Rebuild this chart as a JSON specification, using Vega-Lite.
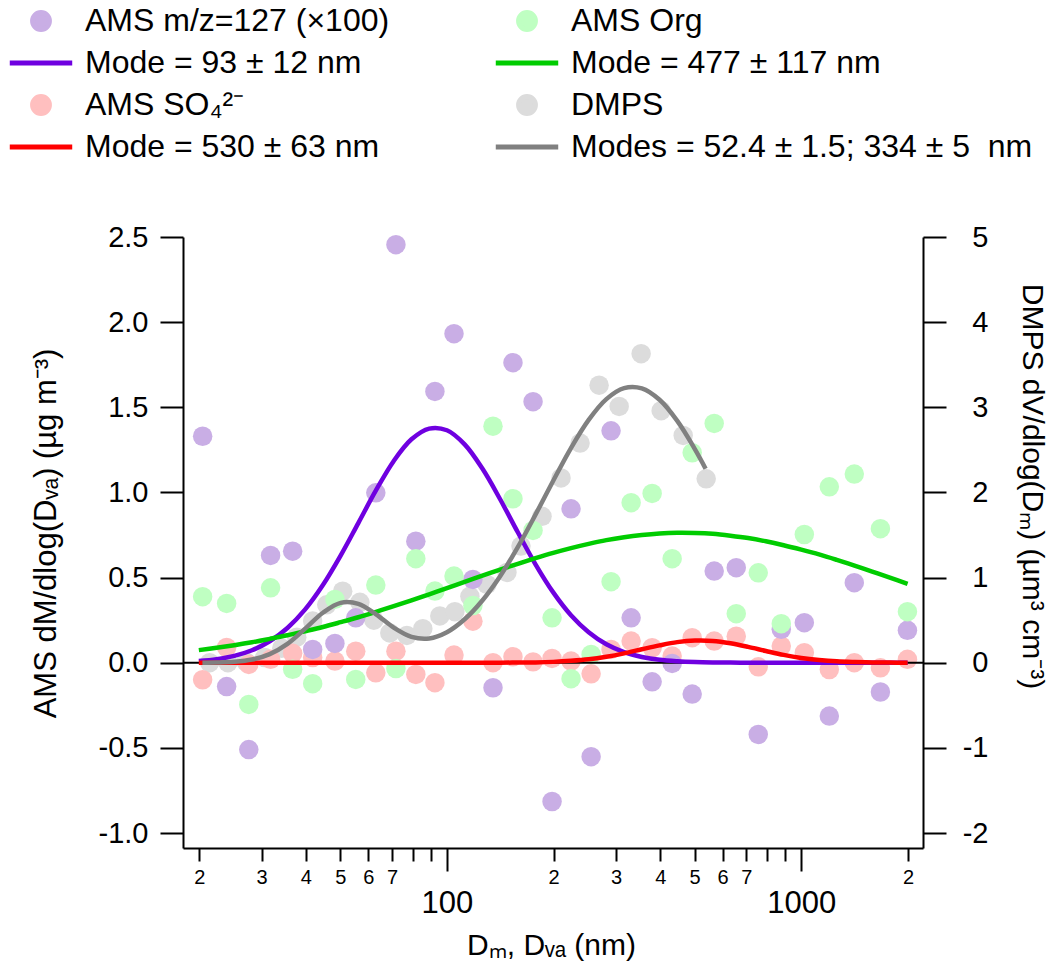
{
  "$schema": "https://vega.github.io/schema/vega-lite/v6.json",
  "width": 740,
  "height": 611,
  "autosize": "none",
  "padding": {"left": 183, "top": 237, "right": 141, "bottom": 117},
  "background": "white",
  "config": {
    "view": {"stroke": null},
    "font": "Liberation Sans",
    "axis": {"grid": false, "domainColor": "black", "domainWidth": 2, "tickColor": "black", "tickWidth": 2, "labelColor": "black", "titleColor": "black", "labelFont": "Liberation Sans", "titleFont": "Liberation Sans", "titleFontWeight": "normal", "labelFlush": false, "labelOverlap": false, "labelBound": false}
  },
  "datasets": {
    "ams": [
      {"D": 20.45, "s": "AMS SO₄²⁻", "v": -0.10}, {"D": 23.9, "s": "AMS SO₄²⁻", "v": 0.09}, {"D": 27.6, "s": "AMS SO₄²⁻", "v": -0.01}, {"D": 31.8, "s": "AMS SO₄²⁻", "v": 0.02},
      {"D": 36.7, "s": "AMS SO₄²⁻", "v": 0.055}, {"D": 41.8, "s": "AMS SO₄²⁻", "v": 0.03}, {"D": 48.3, "s": "AMS SO₄²⁻", "v": 0.01}, {"D": 55.3, "s": "AMS SO₄²⁻", "v": 0.068},
      {"D": 63.0, "s": "AMS SO₄²⁻", "v": -0.059}, {"D": 71.8, "s": "AMS SO₄²⁻", "v": 0.068}, {"D": 81.7, "s": "AMS SO₄²⁻", "v": -0.069}, {"D": 92.5, "s": "AMS SO₄²⁻", "v": -0.117},
      {"D": 104.7, "s": "AMS SO₄²⁻", "v": 0.045}, {"D": 118.4, "s": "AMS SO₄²⁻", "v": 0.244}, {"D": 134.9, "s": "AMS SO₄²⁻", "v": 0.0}, {"D": 153.6, "s": "AMS SO₄²⁻", "v": 0.035},
      {"D": 175.0, "s": "AMS SO₄²⁻", "v": 0.005}, {"D": 198.0, "s": "AMS SO₄²⁻", "v": 0.025}, {"D": 224.0, "s": "AMS SO₄²⁻", "v": 0.01}, {"D": 255.2, "s": "AMS SO₄²⁻", "v": -0.065},
      {"D": 290.5, "s": "AMS SO₄²⁻", "v": 0.078}, {"D": 331.0, "s": "AMS SO₄²⁻", "v": 0.127}, {"D": 379.4, "s": "AMS SO₄²⁻", "v": 0.088}, {"D": 432.1, "s": "AMS SO₄²⁻", "v": 0.039},
      {"D": 492.2, "s": "AMS SO₄²⁻", "v": 0.147}, {"D": 567.8, "s": "AMS SO₄²⁻", "v": 0.127}, {"D": 655.3, "s": "AMS SO₄²⁻", "v": 0.156}, {"D": 756.0, "s": "AMS SO₄²⁻", "v": -0.024},
      {"D": 878.0, "s": "AMS SO₄²⁻", "v": 0.098}, {"D": 1019.8, "s": "AMS SO₄²⁻", "v": 0.059}, {"D": 1199.6, "s": "AMS SO₄²⁻", "v": -0.04}, {"D": 1411, "s": "AMS SO₄²⁻", "v": 0.0},
      {"D": 1672, "s": "AMS SO₄²⁻", "v": -0.03}, {"D": 1993, "s": "AMS SO₄²⁻", "v": 0.02},
      {"D": 20.45, "s": "AMS m/z=127 (×100)", "v": 1.33}, {"D": 23.9, "s": "AMS m/z=127 (×100)", "v": -0.14}, {"D": 27.6, "s": "AMS m/z=127 (×100)", "v": -0.51}, {"D": 31.8, "s": "AMS m/z=127 (×100)", "v": 0.63},
      {"D": 36.7, "s": "AMS m/z=127 (×100)", "v": 0.655}, {"D": 41.8, "s": "AMS m/z=127 (×100)", "v": 0.078}, {"D": 48.3, "s": "AMS m/z=127 (×100)", "v": 0.113}, {"D": 55.3, "s": "AMS m/z=127 (×100)", "v": 0.264},
      {"D": 63.0, "s": "AMS m/z=127 (×100)", "v": 0.998}, {"D": 71.8, "s": "AMS m/z=127 (×100)", "v": 2.455}, {"D": 81.7, "s": "AMS m/z=127 (×100)", "v": 0.714}, {"D": 92.5, "s": "AMS m/z=127 (×100)", "v": 1.593},
      {"D": 104.7, "s": "AMS m/z=127 (×100)", "v": 1.932}, {"D": 118.4, "s": "AMS m/z=127 (×100)", "v": 0.489}, {"D": 134.9, "s": "AMS m/z=127 (×100)", "v": -0.147}, {"D": 153.6, "s": "AMS m/z=127 (×100)", "v": 1.762},
      {"D": 175.0, "s": "AMS m/z=127 (×100)", "v": 1.533}, {"D": 198.0, "s": "AMS m/z=127 (×100)", "v": -0.815}, {"D": 224.0, "s": "AMS m/z=127 (×100)", "v": 0.904}, {"D": 255.2, "s": "AMS m/z=127 (×100)", "v": -0.552},
      {"D": 290.5, "s": "AMS m/z=127 (×100)", "v": 1.362}, {"D": 331.0, "s": "AMS m/z=127 (×100)", "v": 0.264}, {"D": 379.4, "s": "AMS m/z=127 (×100)", "v": -0.112}, {"D": 432.1, "s": "AMS m/z=127 (×100)", "v": -0.004},
      {"D": 492.2, "s": "AMS m/z=127 (×100)", "v": -0.184}, {"D": 567.8, "s": "AMS m/z=127 (×100)", "v": 0.538}, {"D": 655.3, "s": "AMS m/z=127 (×100)", "v": 0.558}, {"D": 756.0, "s": "AMS m/z=127 (×100)", "v": -0.421},
      {"D": 878.0, "s": "AMS m/z=127 (×100)", "v": 0.196}, {"D": 1019.8, "s": "AMS m/z=127 (×100)", "v": 0.235}, {"D": 1199.6, "s": "AMS m/z=127 (×100)", "v": -0.313}, {"D": 1411, "s": "AMS m/z=127 (×100)", "v": 0.47},
      {"D": 1672, "s": "AMS m/z=127 (×100)", "v": -0.172}, {"D": 1993, "s": "AMS m/z=127 (×100)", "v": 0.19},
      {"D": 20.45, "s": "AMS Org", "v": 0.388}, {"D": 23.9, "s": "AMS Org", "v": 0.348}, {"D": 27.6, "s": "AMS Org", "v": -0.245}, {"D": 31.8, "s": "AMS Org", "v": 0.44},
      {"D": 36.7, "s": "AMS Org", "v": -0.039}, {"D": 41.8, "s": "AMS Org", "v": -0.123}, {"D": 48.3, "s": "AMS Org", "v": 0.372}, {"D": 55.3, "s": "AMS Org", "v": -0.098},
      {"D": 63.0, "s": "AMS Org", "v": 0.456}, {"D": 71.8, "s": "AMS Org", "v": -0.034}, {"D": 81.7, "s": "AMS Org", "v": 0.611}, {"D": 92.5, "s": "AMS Org", "v": 0.421},
      {"D": 104.7, "s": "AMS Org", "v": 0.509}, {"D": 118.4, "s": "AMS Org", "v": 0.336}, {"D": 134.9, "s": "AMS Org", "v": 1.389}, {"D": 153.6, "s": "AMS Org", "v": 0.963},
      {"D": 175.0, "s": "AMS Org", "v": 0.777}, {"D": 198.0, "s": "AMS Org", "v": 0.264}, {"D": 224.0, "s": "AMS Org", "v": -0.094}, {"D": 255.2, "s": "AMS Org", "v": 0.049},
      {"D": 290.5, "s": "AMS Org", "v": 0.476}, {"D": 331.0, "s": "AMS Org", "v": 0.94}, {"D": 379.4, "s": "AMS Org", "v": 0.994}, {"D": 432.1, "s": "AMS Org", "v": 0.611},
      {"D": 492.2, "s": "AMS Org", "v": 1.233}, {"D": 567.8, "s": "AMS Org", "v": 1.405}, {"D": 655.3, "s": "AMS Org", "v": 0.288}, {"D": 756.0, "s": "AMS Org", "v": 0.528},
      {"D": 878.0, "s": "AMS Org", "v": 0.229}, {"D": 1019.8, "s": "AMS Org", "v": 0.753}, {"D": 1199.6, "s": "AMS Org", "v": 1.033}, {"D": 1411, "s": "AMS Org", "v": 1.108},
      {"D": 1672, "s": "AMS Org", "v": 0.787}, {"D": 1993, "s": "AMS Org", "v": 0.30}
    ],
    "dmps": [
      {"D": 21.4, "s": "DMPS", "v": 0.0}, {"D": 24.1, "s": "DMPS", "v": 0.0}, {"D": 27.1, "s": "DMPS", "v": 0.01}, {"D": 30.6, "s": "DMPS", "v": 0.06},
      {"D": 34.2, "s": "DMPS", "v": 0.17}, {"D": 37.7, "s": "DMPS", "v": 0.30}, {"D": 41.8, "s": "DMPS", "v": 0.49}, {"D": 45.8, "s": "DMPS", "v": 0.68},
      {"D": 50.8, "s": "DMPS", "v": 0.84}, {"D": 56.8, "s": "DMPS", "v": 0.71}, {"D": 62.2, "s": "DMPS", "v": 0.50}, {"D": 69.0, "s": "DMPS", "v": 0.35},
      {"D": 77.1, "s": "DMPS", "v": 0.32}, {"D": 85.5, "s": "DMPS", "v": 0.40}, {"D": 95.5, "s": "DMPS", "v": 0.55}, {"D": 105.3, "s": "DMPS", "v": 0.60},
      {"D": 116.1, "s": "DMPS", "v": 0.78}, {"D": 129.7, "s": "DMPS", "v": 0.92}, {"D": 147.7, "s": "DMPS", "v": 1.06}, {"D": 161.8, "s": "DMPS", "v": 1.37},
      {"D": 185.5, "s": "DMPS", "v": 1.72}, {"D": 209.9, "s": "DMPS", "v": 2.17}, {"D": 237.5, "s": "DMPS", "v": 2.58}, {"D": 268.8, "s": "DMPS", "v": 3.26},
      {"D": 306.2, "s": "DMPS", "v": 3.01}, {"D": 353.2, "s": "DMPS", "v": 3.63}, {"D": 402.3, "s": "DMPS", "v": 2.96}, {"D": 464.2, "s": "DMPS", "v": 2.67},
      {"D": 539.0, "s": "DMPS", "v": 2.16}
    ],
    "fits": [
      {"D": 19.95, "s": "Mode = 93 ± 12 nm", "v": 0.010}, {"D": 22.39, "s": "Mode = 93 ± 12 nm", "v": 0.021}, {"D": 25.12, "s": "Mode = 93 ± 12 nm", "v": 0.040}, {"D": 28.18, "s": "Mode = 93 ± 12 nm", "v": 0.073},
      {"D": 31.62, "s": "Mode = 93 ± 12 nm", "v": 0.126}, {"D": 35.48, "s": "Mode = 93 ± 12 nm", "v": 0.204}, {"D": 39.81, "s": "Mode = 93 ± 12 nm", "v": 0.313}, {"D": 44.67, "s": "Mode = 93 ± 12 nm", "v": 0.456},
      {"D": 50.12, "s": "Mode = 93 ± 12 nm", "v": 0.629}, {"D": 56.23, "s": "Mode = 93 ± 12 nm", "v": 0.820}, {"D": 63.1, "s": "Mode = 93 ± 12 nm", "v": 1.013}, {"D": 70.79, "s": "Mode = 93 ± 12 nm", "v": 1.185},
      {"D": 79.43, "s": "Mode = 93 ± 12 nm", "v": 1.312}, {"D": 89.13, "s": "Mode = 93 ± 12 nm", "v": 1.375}, {"D": 100, "s": "Mode = 93 ± 12 nm", "v": 1.365}, {"D": 112.2, "s": "Mode = 93 ± 12 nm", "v": 1.282},
      {"D": 125.9, "s": "Mode = 93 ± 12 nm", "v": 1.140}, {"D": 141.3, "s": "Mode = 93 ± 12 nm", "v": 0.960}, {"D": 158.5, "s": "Mode = 93 ± 12 nm", "v": 0.766}, {"D": 177.8, "s": "Mode = 93 ± 12 nm", "v": 0.578},
      {"D": 199.5, "s": "Mode = 93 ± 12 nm", "v": 0.413}, {"D": 223.9, "s": "Mode = 93 ± 12 nm", "v": 0.279}, {"D": 251.2, "s": "Mode = 93 ± 12 nm", "v": 0.179}, {"D": 281.8, "s": "Mode = 93 ± 12 nm", "v": 0.108},
      {"D": 316.2, "s": "Mode = 93 ± 12 nm", "v": 0.062}, {"D": 354.8, "s": "Mode = 93 ± 12 nm", "v": 0.034}, {"D": 398.1, "s": "Mode = 93 ± 12 nm", "v": 0.017}, {"D": 446.7, "s": "Mode = 93 ± 12 nm", "v": 0.0085},
      {"D": 501.2, "s": "Mode = 93 ± 12 nm", "v": 0.0039}, {"D": 562.3, "s": "Mode = 93 ± 12 nm", "v": 0.0017}, {"D": 631, "s": "Mode = 93 ± 12 nm", "v": 0.0007}, {"D": 707.9, "s": "Mode = 93 ± 12 nm", "v": 0.0003},
      {"D": 794.3, "s": "Mode = 93 ± 12 nm", "v": 0.0001}, {"D": 891.3, "s": "Mode = 93 ± 12 nm", "v": 0}, {"D": 1000, "s": "Mode = 93 ± 12 nm", "v": 0}, {"D": 1259, "s": "Mode = 93 ± 12 nm", "v": 0},
      {"D": 1585, "s": "Mode = 93 ± 12 nm", "v": 0}, {"D": 1995, "s": "Mode = 93 ± 12 nm", "v": 0},
      {"D": 19.95, "s": "Mode = 477 ± 117 nm", "v": 0.074}, {"D": 22.39, "s": "Mode = 477 ± 117 nm", "v": 0.088}, {"D": 25.12, "s": "Mode = 477 ± 117 nm", "v": 0.103}, {"D": 28.18, "s": "Mode = 477 ± 117 nm", "v": 0.120},
      {"D": 31.62, "s": "Mode = 477 ± 117 nm", "v": 0.140}, {"D": 35.48, "s": "Mode = 477 ± 117 nm", "v": 0.161}, {"D": 39.81, "s": "Mode = 477 ± 117 nm", "v": 0.185}, {"D": 44.67, "s": "Mode = 477 ± 117 nm", "v": 0.210},
      {"D": 50.12, "s": "Mode = 477 ± 117 nm", "v": 0.238}, {"D": 56.23, "s": "Mode = 477 ± 117 nm", "v": 0.267}, {"D": 63.1, "s": "Mode = 477 ± 117 nm", "v": 0.299}, {"D": 70.79, "s": "Mode = 477 ± 117 nm", "v": 0.332},
      {"D": 79.43, "s": "Mode = 477 ± 117 nm", "v": 0.366}, {"D": 89.13, "s": "Mode = 477 ± 117 nm", "v": 0.402}, {"D": 100, "s": "Mode = 477 ± 117 nm", "v": 0.438}, {"D": 112.2, "s": "Mode = 477 ± 117 nm", "v": 0.475},
      {"D": 125.9, "s": "Mode = 477 ± 117 nm", "v": 0.511}, {"D": 141.3, "s": "Mode = 477 ± 117 nm", "v": 0.547}, {"D": 158.5, "s": "Mode = 477 ± 117 nm", "v": 0.581}, {"D": 177.8, "s": "Mode = 477 ± 117 nm", "v": 0.614},
      {"D": 199.5, "s": "Mode = 477 ± 117 nm", "v": 0.645}, {"D": 223.9, "s": "Mode = 477 ± 117 nm", "v": 0.673}, {"D": 251.2, "s": "Mode = 477 ± 117 nm", "v": 0.698}, {"D": 281.8, "s": "Mode = 477 ± 117 nm", "v": 0.720},
      {"D": 316.2, "s": "Mode = 477 ± 117 nm", "v": 0.737}, {"D": 354.8, "s": "Mode = 477 ± 117 nm", "v": 0.750}, {"D": 398.1, "s": "Mode = 477 ± 117 nm", "v": 0.759}, {"D": 446.7, "s": "Mode = 477 ± 117 nm", "v": 0.763},
      {"D": 501.2, "s": "Mode = 477 ± 117 nm", "v": 0.762}, {"D": 562.3, "s": "Mode = 477 ± 117 nm", "v": 0.757}, {"D": 631, "s": "Mode = 477 ± 117 nm", "v": 0.746}, {"D": 707.9, "s": "Mode = 477 ± 117 nm", "v": 0.732},
      {"D": 794.3, "s": "Mode = 477 ± 117 nm", "v": 0.713}, {"D": 891.3, "s": "Mode = 477 ± 117 nm", "v": 0.690}, {"D": 1000, "s": "Mode = 477 ± 117 nm", "v": 0.664}, {"D": 1122, "s": "Mode = 477 ± 117 nm", "v": 0.636},
      {"D": 1259, "s": "Mode = 477 ± 117 nm", "v": 0.604}, {"D": 1413, "s": "Mode = 477 ± 117 nm", "v": 0.570}, {"D": 1585, "s": "Mode = 477 ± 117 nm", "v": 0.535}, {"D": 1778, "s": "Mode = 477 ± 117 nm", "v": 0.500},
      {"D": 1995, "s": "Mode = 477 ± 117 nm", "v": 0.463},
      {"D": 19.95, "s": "Mode = 530 ± 63 nm", "v": 0}, {"D": 31.62, "s": "Mode = 530 ± 63 nm", "v": 0}, {"D": 50.12, "s": "Mode = 530 ± 63 nm", "v": 0}, {"D": 79.43, "s": "Mode = 530 ± 63 nm", "v": 0},
      {"D": 112.2, "s": "Mode = 530 ± 63 nm", "v": 0}, {"D": 141.3, "s": "Mode = 530 ± 63 nm", "v": 0.0003},
      {"D": 158.5, "s": "Mode = 530 ± 63 nm", "v": 0.001}, {"D": 177.8, "s": "Mode = 530 ± 63 nm", "v": 0.002}, {"D": 199.5, "s": "Mode = 530 ± 63 nm", "v": 0.005}, {"D": 223.9, "s": "Mode = 530 ± 63 nm", "v": 0.011},
      {"D": 251.2, "s": "Mode = 530 ± 63 nm", "v": 0.020}, {"D": 281.8, "s": "Mode = 530 ± 63 nm", "v": 0.035}, {"D": 316.2, "s": "Mode = 530 ± 63 nm", "v": 0.055}, {"D": 354.8, "s": "Mode = 530 ± 63 nm", "v": 0.079},
      {"D": 398.1, "s": "Mode = 530 ± 63 nm", "v": 0.102}, {"D": 446.7, "s": "Mode = 530 ± 63 nm", "v": 0.121}, {"D": 501.2, "s": "Mode = 530 ± 63 nm", "v": 0.130}, {"D": 562.3, "s": "Mode = 530 ± 63 nm", "v": 0.128},
      {"D": 631, "s": "Mode = 530 ± 63 nm", "v": 0.114}, {"D": 707.9, "s": "Mode = 530 ± 63 nm", "v": 0.093}, {"D": 794.3, "s": "Mode = 530 ± 63 nm", "v": 0.069}, {"D": 891.3, "s": "Mode = 530 ± 63 nm", "v": 0.046},
      {"D": 1000, "s": "Mode = 530 ± 63 nm", "v": 0.028}, {"D": 1122, "s": "Mode = 530 ± 63 nm", "v": 0.016}, {"D": 1259, "s": "Mode = 530 ± 63 nm", "v": 0.008}, {"D": 1413, "s": "Mode = 530 ± 63 nm", "v": 0.004},
      {"D": 1585, "s": "Mode = 530 ± 63 nm", "v": 0.0015}, {"D": 1778, "s": "Mode = 530 ± 63 nm", "v": 0.0006}, {"D": 1995, "s": "Mode = 530 ± 63 nm", "v": 0.0002}
    ],
    "dmpsfit": [
      {"D": 20.42, "s": "Modes = 52.4 ± 1.5; 334 ± 5\u00a0 nm", "v": 0.001}, {"D": 22.39, "s": "Modes = 52.4 ± 1.5; 334 ± 5\u00a0 nm", "v": 0.003}, {"D": 25.12, "s": "Modes = 52.4 ± 1.5; 334 ± 5\u00a0 nm", "v": 0.011}, {"D": 28.18, "s": "Modes = 52.4 ± 1.5; 334 ± 5\u00a0 nm", "v": 0.037},
      {"D": 31.62, "s": "Modes = 52.4 ± 1.5; 334 ± 5\u00a0 nm", "v": 0.101}, {"D": 35.48, "s": "Modes = 52.4 ± 1.5; 334 ± 5\u00a0 nm", "v": 0.222}, {"D": 39.81, "s": "Modes = 52.4 ± 1.5; 334 ± 5\u00a0 nm", "v": 0.400}, {"D": 44.67, "s": "Modes = 52.4 ± 1.5; 334 ± 5\u00a0 nm", "v": 0.587},
      {"D": 50.12, "s": "Modes = 52.4 ± 1.5; 334 ± 5\u00a0 nm", "v": 0.703}, {"D": 56.23, "s": "Modes = 52.4 ± 1.5; 334 ± 5\u00a0 nm", "v": 0.692}, {"D": 63.1, "s": "Modes = 52.4 ± 1.5; 334 ± 5\u00a0 nm", "v": 0.568}, {"D": 70.79, "s": "Modes = 52.4 ± 1.5; 334 ± 5\u00a0 nm", "v": 0.412},
      {"D": 79.43, "s": "Modes = 52.4 ± 1.5; 334 ± 5\u00a0 nm", "v": 0.304}, {"D": 89.13, "s": "Modes = 52.4 ± 1.5; 334 ± 5\u00a0 nm", "v": 0.285}, {"D": 100, "s": "Modes = 52.4 ± 1.5; 334 ± 5\u00a0 nm", "v": 0.358}, {"D": 112.2, "s": "Modes = 52.4 ± 1.5; 334 ± 5\u00a0 nm", "v": 0.510},
      {"D": 125.9, "s": "Modes = 52.4 ± 1.5; 334 ± 5\u00a0 nm", "v": 0.731}, {"D": 141.3, "s": "Modes = 52.4 ± 1.5; 334 ± 5\u00a0 nm", "v": 1.016}, {"D": 158.5, "s": "Modes = 52.4 ± 1.5; 334 ± 5\u00a0 nm", "v": 1.357}, {"D": 177.8, "s": "Modes = 52.4 ± 1.5; 334 ± 5\u00a0 nm", "v": 1.739},
      {"D": 199.5, "s": "Modes = 52.4 ± 1.5; 334 ± 5\u00a0 nm", "v": 2.137}, {"D": 223.9, "s": "Modes = 52.4 ± 1.5; 334 ± 5\u00a0 nm", "v": 2.521}, {"D": 251.2, "s": "Modes = 52.4 ± 1.5; 334 ± 5\u00a0 nm", "v": 2.852}, {"D": 281.8, "s": "Modes = 52.4 ± 1.5; 334 ± 5\u00a0 nm", "v": 3.096},
      {"D": 316.2, "s": "Modes = 52.4 ± 1.5; 334 ± 5\u00a0 nm", "v": 3.225}, {"D": 354.8, "s": "Modes = 52.4 ± 1.5; 334 ± 5\u00a0 nm", "v": 3.222}, {"D": 398.1, "s": "Modes = 52.4 ± 1.5; 334 ± 5\u00a0 nm", "v": 3.088}, {"D": 446.7, "s": "Modes = 52.4 ± 1.5; 334 ± 5\u00a0 nm", "v": 2.840},
      {"D": 501.2, "s": "Modes = 52.4 ± 1.5; 334 ± 5\u00a0 nm", "v": 2.506}, {"D": 537.0, "s": "Modes = 52.4 ± 1.5; 334 ± 5\u00a0 nm", "v": 2.279}
    ]
  },
  "layer": [
    {
      "data": {"name": "dmps"},
      "mark": {"type": "circle", "size": 380, "opacity": 1},
      "encoding": {
        "x": {"field": "D", "type": "quantitative", "scale": {"type": "log", "domain": [18, 2205], "nice": false},
          "axis": {"orient": "bottom", "values": [20, 30, 40, 50, 60, 70, 80, 90, 200, 300, 400, 500, 600, 700, 800, 900, 2000],
            "labelExpr": "indexof([80, 90, 800, 900], datum.value) >= 0 ? '' : substring(toString(datum.value), 0, 1)",
            "tickSize": 13, "labelFontSize": 20, "labelPadding": 6, "title": null}},
        "y": {"field": "v", "type": "quantitative", "scale": {"domain": [-2.176, 5], "nice": false, "zero": false},
          "axis": {"orient": "right", "values": [-2, -1, 0, 1, 2, 3, 4, 5], "labelExpr": "replace(format(datum.value, 'd'), '−', '-')",
            "tickSize": 23, "labelFontSize": 29, "labelAlign": "right", "labelPadding": 42,
            "title": "DMPS dV/dlog(Dₘ) (µm³ cm⁻³)", "titleFontSize": 30, "titleAngle": 90, "titleX": 108, "titleY": 249, "titleBaseline": "middle", "titleAlign": "center"}},
        "color": {"field": "s", "type": "nominal",
          "scale": {"domain": ["AMS m/z=127 (×100)", "Mode = 93 ± 12 nm", "AMS SO₄²⁻", "Mode = 530 ± 63 nm", "AMS Org", "Mode = 477 ± 117 nm", "DMPS", "Modes = 52.4 ± 1.5; 334 ± 5\u00a0 nm"],
            "range": ["#c9aee5", "#6f00e0", "#ffbfbf", "#ff0000", "#bfffc2", "#00cc00", "#dcdcdc", "#808080"]},
          "legend": {"orient": "none", "legendX": -176, "legendY": -233, "title": null, "columns": 2, "columnPadding": 103, "rowPadding": 8, "clipHeight": 34, "padding": 0,
            "symbolSize": 3900, "symbolStrokeWidth": 5, "labelFontSize": 32, "labelFont": "Liberation Sans", "labelColor": "black", "labelOffset": 10, "labelLimit": 1000, "symbolOpacity": 1,
            "encode": {"symbols": {"update": {
              "shape": {"signal": "indexof(datum.value, 'Mode') == 0 ? 'stroke' : 'M-0.27,0A0.27,0.27,0,1,1,0.27,0A0.27,0.27,0,1,1,-0.27,0Z'"},
              "fill": {"scale": "color", "field": "value"},
              "stroke": {"scale": "color", "field": "value"},
              "strokeWidth": {"value": 5},
              "opacity": {"value": 1}}}}}}
      }
    },
    {
      "layer": [
        {
          "data": {"name": "ams"},
          "mark": {"type": "circle", "size": 380, "opacity": 1},
          "encoding": {
            "x": {"field": "D", "type": "quantitative", "scale": {"type": "log", "domain": [18, 2205], "nice": false},
              "axis": {"orient": "bottom", "values": [100, 1000], "labelExpr": "format(datum.value, 'd')", "domain": false,
                "tickSize": 23, "labelFontSize": 31, "labelPadding": 17,
                "title": "Dₘ, Dᵥₐ (nm)", "titleFontSize": 30, "titleBaseline": "alphabetic", "titleY": 106, "titleX": 368, "titleAlign": "center"}},
            "y": {"field": "v", "type": "quantitative", "scale": {"domain": [-1.088, 2.5], "nice": false, "zero": false},
              "axis": {"orient": "left", "values": [-1, -0.5, 0, 0.5, 1, 1.5, 2, 2.5], "labelExpr": "replace(format(datum.value, '.1f'), '−', '-')",
                "tickSize": 23, "labelFontSize": 29, "labelPadding": 12,
                "title": "AMS dM/dlog(Dᵥₐ) (µg m⁻³)", "titleFontSize": 31, "titleAngle": -90, "titleX": -137, "titleY": 296, "titleBaseline": "middle", "titleAlign": "center"}},
            "color": {"field": "s", "type": "nominal",
              "scale": {"domain": ["AMS m/z=127 (×100)", "Mode = 93 ± 12 nm", "AMS SO₄²⁻", "Mode = 530 ± 63 nm", "AMS Org", "Mode = 477 ± 117 nm", "DMPS", "Modes = 52.4 ± 1.5; 334 ± 5\u00a0 nm"],
                "range": ["#c9aee5", "#6f00e0", "#ffbfbf", "#ff0000", "#bfffc2", "#00cc00", "#dcdcdc", "#808080"]}}
          }
        },
        {
          "data": {"values": [{"z": 0}]},
          "mark": {"type": "rule", "color": "black", "strokeWidth": 2},
          "encoding": {"y": {"field": "z", "type": "quantitative"}}
        },
        {
          "data": {"name": "fits"},
          "mark": {"type": "line", "strokeWidth": 4.5, "interpolate": "catmull-rom"},
          "encoding": {
            "x": {"field": "D", "type": "quantitative"},
            "y": {"field": "v", "type": "quantitative"},
            "color": {"field": "s", "type": "nominal",
              "scale": {"domain": ["AMS m/z=127 (×100)", "Mode = 93 ± 12 nm", "AMS SO₄²⁻", "Mode = 530 ± 63 nm", "AMS Org", "Mode = 477 ± 117 nm", "DMPS", "Modes = 52.4 ± 1.5; 334 ± 5\u00a0 nm"],
                "range": ["#c9aee5", "#6f00e0", "#ffbfbf", "#ff0000", "#bfffc2", "#00cc00", "#dcdcdc", "#808080"]}}
          }
        }
      ]
    },
    {
      "data": {"name": "dmpsfit"},
      "mark": {"type": "line", "strokeWidth": 4.5, "interpolate": "catmull-rom"},
      "encoding": {
        "x": {"field": "D", "type": "quantitative", "axis": null},
        "y": {"field": "v", "type": "quantitative", "scale": {"domain": [-2.176, 5], "nice": false, "zero": false}, "axis": null},
        "color": {"field": "s", "type": "nominal",
          "scale": {"domain": ["AMS m/z=127 (×100)", "Mode = 93 ± 12 nm", "AMS SO₄²⁻", "Mode = 530 ± 63 nm", "AMS Org", "Mode = 477 ± 117 nm", "DMPS", "Modes = 52.4 ± 1.5; 334 ± 5\u00a0 nm"],
            "range": ["#c9aee5", "#6f00e0", "#ffbfbf", "#ff0000", "#bfffc2", "#00cc00", "#dcdcdc", "#808080"]}}
      }
    }
  ],
  "resolve": {"scale": {"y": "independent"}, "axis": {"x": "independent", "y": "independent"}}
}
